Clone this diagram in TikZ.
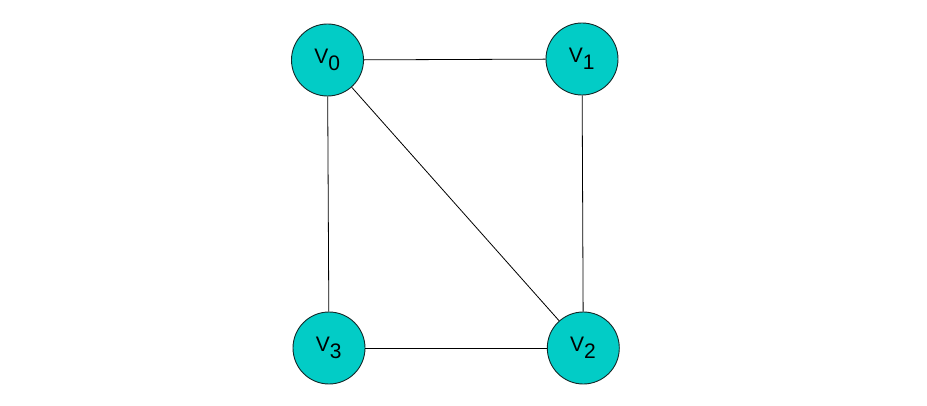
\documentclass[tikz,border=0pt]{standalone}
\usepackage{fontspec}
\setmainfont{Liberation Sans}
\definecolor{vfill}{RGB}{2,204,198}
\definecolor{vline}{RGB}{20,40,40}
\begin{document}
\begin{tikzpicture}[x=1pt,y=-1pt,
  vert/.style={circle,draw=vline,line width=0.9pt,fill=vfill,minimum size=72pt,inner sep=0pt,font=\fontsize{21}{21}\selectfont},
  edge/.style={draw=black,line width=0.8pt}]
\useasboundingbox (0,0) rectangle (927,406);
\node[vert] (v0) at (327.5,60) {V$_{\textrm{0}}$};
\node[vert] (v1) at (582,59) {V$_{\textrm{1}}$};
\node[vert] (v2) at (583.3,348) {V$_{\textrm{2}}$};
\node[vert] (v3) at (329,348) {V$_{\textrm{3}}$};
\draw[edge] (v0) -- (v1);
\draw[edge] (v1) -- (v2);
\draw[edge] (v0) -- (v2);
\draw[edge] (v0) -- (v3);
\draw[edge] (v3) -- (v2);
\end{tikzpicture}
\end{document}
